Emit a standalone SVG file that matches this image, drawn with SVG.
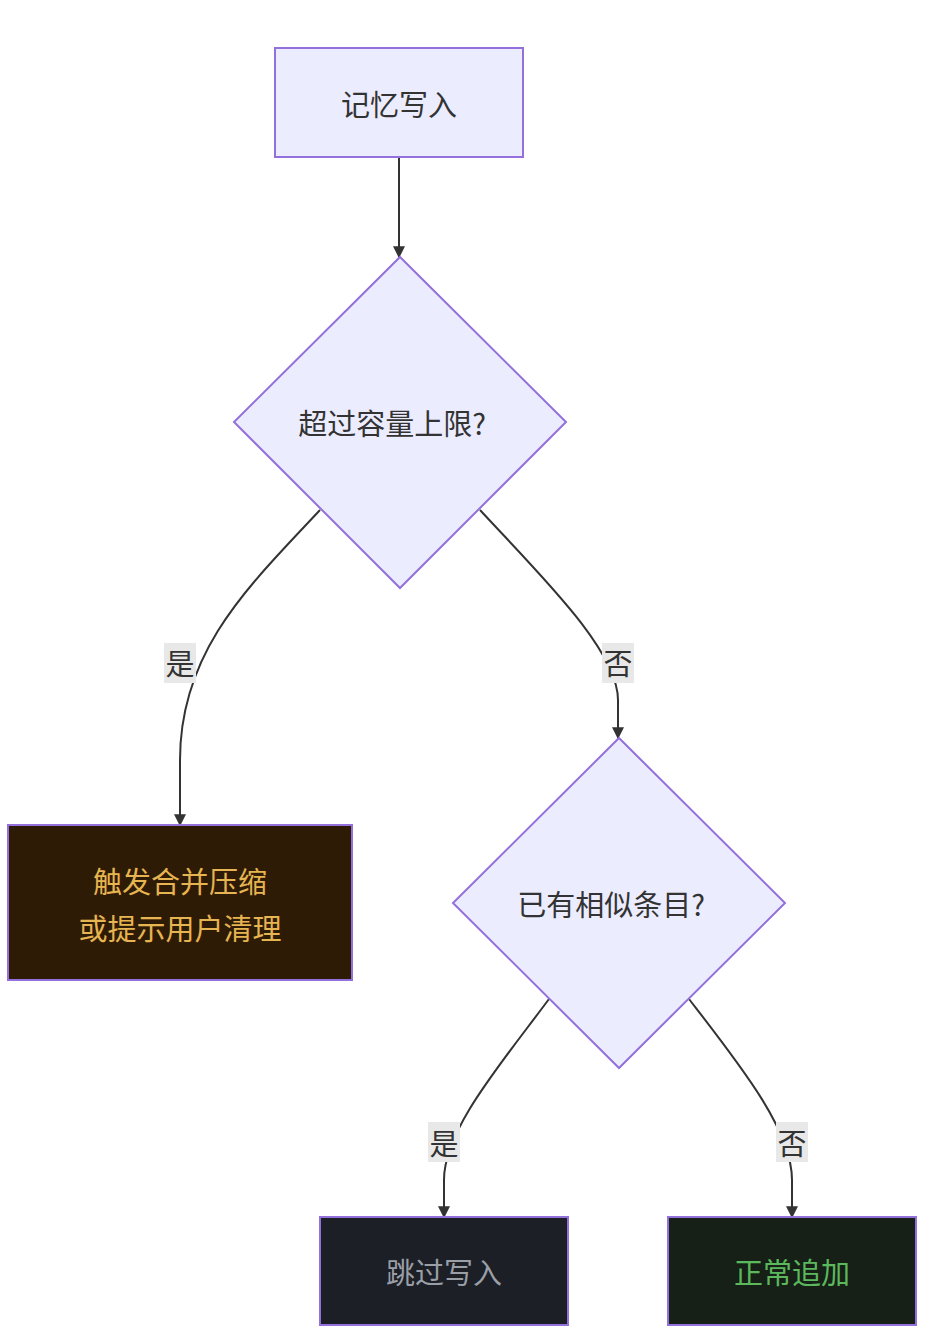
<svg xmlns="http://www.w3.org/2000/svg" width="940" height="1342" viewBox="0 0 940 1342">
<style>
.n{fill:#ECECFF;stroke:#9370DB;stroke-width:2}
.t{font-family:"Noto Sans CJK SC","Liberation Sans",sans-serif;font-size:29px;fill:#333;text-anchor:middle;dominant-baseline:central}
.e{fill:none;stroke:#333;stroke-width:2;marker-end:url(#a)}
.lb{fill:#e8e8e8}
</style>
<defs><marker id="a" viewBox="0 0 10 10" refX="9" refY="5" markerWidth="6" markerHeight="6" orient="auto"><path d="M0,0L10,5L0,10z" fill="#333"/></marker></defs>
<rect width="940" height="1342" fill="#fff"/>
<g id="edges">
<path class="e" d="M399,157V257"/>
<path class="e" d="M320,510C250,585 180,650 180,760V825"/>
<path class="e" d="M480,510C540,575 618,650 618,700V738"/>
<path class="e" d="M549,999C500,1065 444,1130 444,1180V1217"/>
<path class="e" d="M689,999C740,1065 792,1130 792,1180V1217"/>
<rect class="lb" x="164" y="643" width="32" height="40"/><text class="t" x="180" y="662">是</text>
<rect class="lb" x="602" y="643" width="32" height="40"/><text class="t" x="618" y="662">否</text>
<rect class="lb" x="428" y="1122" width="32" height="40"/><text class="t" x="444" y="1142">是</text>
<rect class="lb" x="776" y="1122" width="32" height="40"/><text class="t" x="792" y="1142">否</text>
</g>
<g id="n1"><rect class="n" x="275" y="48" width="248" height="109"/><text class="t" x="399" y="103">记忆写入</text></g>
<g id="n2"><polygon class="n" points="400,257 566,422 400,588 234,422"/><text class="t" x="392" y="422">超过容量上限?</text></g>
<g id="n3"><rect x="8" y="825" width="344" height="155" fill="#2e1b06" stroke="#9370DB" stroke-width="2"/><text class="t" x="180" y="880" fill="#e6b450" style="fill:#e6b450">触发合并压缩</text><text class="t" x="180" y="927" style="fill:#e6b450">或提示用户清理</text></g>
<g id="n4"><polygon class="n" points="619,738 785,903 619,1068 453,903"/><text class="t" x="611" y="903">已有相似条目?</text></g>
<g id="n5"><rect x="320" y="1217" width="248" height="108" fill="#1c1f26" stroke="#9370DB" stroke-width="2"/><text class="t" x="444" y="1271" style="fill:#9a9ea6">跳过写入</text></g>
<g id="n6"><rect x="668" y="1217" width="248" height="108" fill="#162016" stroke="#9370DB" stroke-width="2"/><text class="t" x="792" y="1271" style="fill:#5cb85c">正常追加</text></g>
</svg>
